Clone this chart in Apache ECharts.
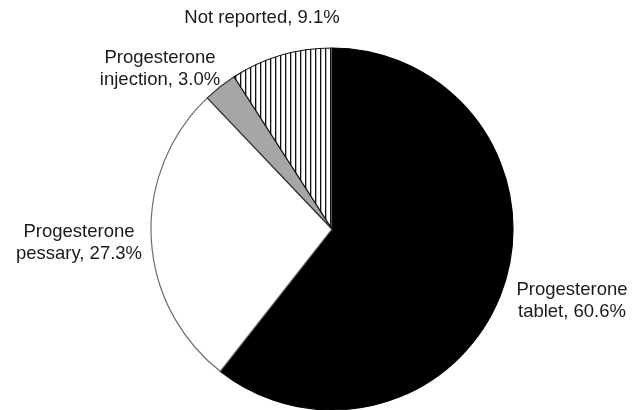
<!DOCTYPE html>
<html>
<head>
<meta charset="utf-8">
<script src="https://cdn.jsdelivr.net/npm/echarts@6/dist/echarts.min.js"></script>
<style>
html,body{margin:0;padding:0;background:#fff;}
#chart{width:642px;height:410px;}
</style>
</head>
<body>
<div id="chart"></div>
<script>
// Data
var categories = ['Progesterone tablet', 'Progesterone pessary', 'Progesterone injection', 'Not reported'];
var labelTexts = ['Progesterone\ntablet, 60.6%', 'Progesterone\npessary, 27.3%', 'Progesterone\ninjection, 3.0%', 'Not reported, 9.1%'];
var values = [60.6, 27.3, 3.0, 9.1];

// Label anchor positions (layout only)
var labelPos = [
  {x: 572, y: 301},
  {x: 79, y: 243},
  {x: 160, y: 69},
  {x: 262, y: 18}
];

// Vertical stripe pattern
var pc = document.createElement('canvas');
pc.width = 5; pc.height = 10;
var pctx = pc.getContext('2d');
pctx.fillStyle = '#ffffff';
pctx.fillRect(0, 0, 5, 10);
pctx.fillStyle = '#111111';
pctx.fillRect(0, 0, 1.3, 10);

var fills = [
  '#000000',
  '#ffffff',
  '#a6a6a6',
  {image: pc, repeat: 'repeat'}
];
var borders = ['#000000', '#6e6e6e', '#333333', '#111111'];

var chart = echarts.init(document.getElementById('chart'), null, {renderer: 'canvas'});
var data = values.map(function (v, i) {
  return {
    name: categories[i],
    value: v,
    itemStyle: {color: fills[i], borderColor: borders[i], borderWidth: 1.2},
    label: {formatter: labelTexts[i]}
  };
});

chart.setOption({
  animation: false,
  backgroundColor: '#ffffff',
  series: [{
    type: 'pie',
    center: [332, 229],
    radius: [0, 181],
    startAngle: 90,
    clockwise: true,
    data: data,
    label: {
      show: true,
      position: 'outside',
      alignTo: 'none',
      overflow: 'none',
      width: 200,
      color: '#1a1a1a',
      fontFamily: 'Liberation Sans, Arial, sans-serif',
      fontSize: 18.5,
      lineHeight: 22,
      align: 'center'
    },
    labelLine: {show: false},
    labelLayout: function (params) {
      var p = labelPos[params.dataIndex];
      return {x: p.x, y: p.y, align: 'center', verticalAlign: 'middle', hideOverlap: false, moveOverlap: null};
    },
    emphasis: {disabled: true}
  }]
});
</script>
</body>
</html>
